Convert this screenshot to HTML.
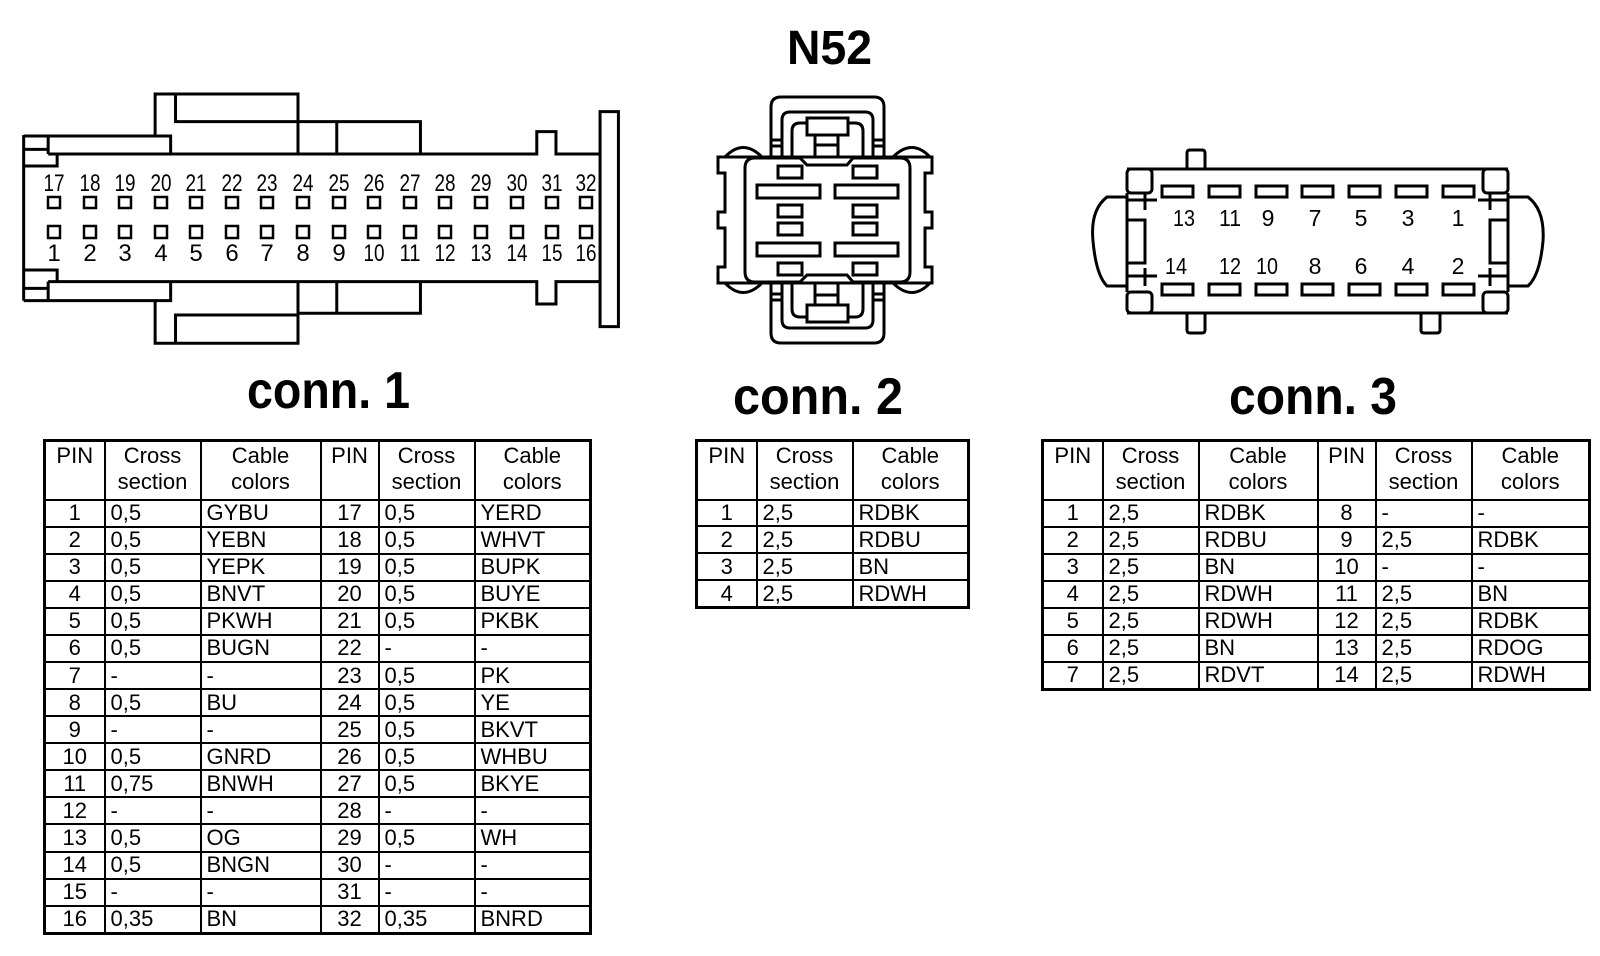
<!DOCTYPE html>
<html><head><meta charset="utf-8">
<style>
html,body{margin:0;padding:0;background:#fff;}
body{width:1600px;height:956px;position:relative;overflow:hidden;font-family:"Liberation Sans",Arial,sans-serif;}
svg{position:absolute;left:0;top:0;}
table{position:absolute;border-collapse:collapse;table-layout:fixed;border:3px solid #000;font-size:22px;line-height:1;}
td{border:2px solid #000;padding:0;white-space:nowrap;overflow:hidden;vertical-align:middle;}
tr.h td{vertical-align:top;text-align:center;line-height:26px;padding-top:1px;}
td.c{text-align:center;}
td.l{text-align:left;padding-left:5px;}
</style></head><body>
<svg width="1600" height="956" viewBox="0 0 1600 956" font-family="Liberation Sans, Arial, sans-serif">
<g fill="none" stroke="#000" stroke-width="3" stroke-linejoin="miter">
 <g transform="translate(0,80) scale(0.4082,0.3333)">
  <path vector-effect="non-scaling-stroke" d="M58,165 V662"/>
  <path vector-effect="non-scaling-stroke" d="M58,168 H418 V222 M118,168 V222 M58,208 H118 M140,222 V258 H58"/>
  <path vector-effect="non-scaling-stroke" d="M380,168 V42 H730 V222 M430,42 V125 H1030 V222 M825,125 V222"/>
  <path vector-effect="non-scaling-stroke" d="M118,222 H1315 V155 H1362 V222 H1470 M1470,95 H1515 V740 H1470 Z"/>
  <path vector-effect="non-scaling-stroke" d="M58,662 H418 V605 M118,662 V605 M58,625 H118 M140,605 V570 H58"/>
  <path vector-effect="non-scaling-stroke" d="M380,662 V790 H730 V605 M430,790 V705 H730 M730,700 H1030 V605 M825,605 V700"/>
  <path vector-effect="non-scaling-stroke" d="M118,605 H1315 V672 H1362 V605 H1470"/>
 </g>
 <g stroke-width="2.5">
  <rect x="48" y="197" width="12" height="11"/><rect x="84" y="197" width="12" height="11"/><rect x="119" y="197" width="12" height="11"/><rect x="155" y="197" width="12" height="11"/><rect x="190" y="197" width="12" height="11"/><rect x="226" y="197" width="12" height="11"/><rect x="261" y="197" width="12" height="11"/><rect x="297" y="197" width="12" height="11"/><rect x="333" y="197" width="12" height="11"/><rect x="368" y="197" width="12" height="11"/><rect x="404" y="197" width="12" height="11"/><rect x="439" y="197" width="12" height="11"/><rect x="475" y="197" width="12" height="11"/><rect x="511" y="197" width="12" height="11"/><rect x="546" y="197" width="12" height="11"/><rect x="580" y="197" width="12" height="11"/>
  <rect x="48" y="226" width="12" height="12"/><rect x="84" y="226" width="12" height="12"/><rect x="119" y="226" width="12" height="12"/><rect x="155" y="226" width="12" height="12"/><rect x="190" y="226" width="12" height="12"/><rect x="226" y="226" width="12" height="12"/><rect x="261" y="226" width="12" height="12"/><rect x="297" y="226" width="12" height="12"/><rect x="333" y="226" width="12" height="12"/><rect x="368" y="226" width="12" height="12"/><rect x="404" y="226" width="12" height="12"/><rect x="439" y="226" width="12" height="12"/><rect x="475" y="226" width="12" height="12"/><rect x="511" y="226" width="12" height="12"/><rect x="546" y="226" width="12" height="12"/><rect x="580" y="226" width="12" height="12"/>
 </g>

 <g id="c2top">
  <path d="M771,157 V107 Q771,97 781,97 H874 Q884,97 884,107 V157"/>
  <path d="M782,157 V120 Q782,112 790,112 H865 Q873,112 873,120 V157"/>
  <path d="M792,157 V131 Q792,123 800,123 H855 Q863,123 863,131 V157"/>
  <path d="M771,140 H782 M771,146 H782 M873,140 H884 M873,146 H884"/>
  <rect x="807" y="118" width="41" height="17" fill="#fff"/>
  <path d="M815,135 V157 M838,135 V157 M815,145 H838 M824,157 V165 M830,157 V165"/>
  <path d="M725,157 Q743,138 762,157 M893,157 Q912,138 930,157"/>
 </g>
 <use href="#c2top" transform="translate(0,440) scale(1,-1)"/>
 <path d="M718,157 H932 V173 H925 V212 H932 V228 H925 V267 H932 V283 H718 V267 H725 V228 H718 V212 H725 V173 H718 Z" fill="#fff"/>
 <path d="M755,158 H800 L807,165 H847 L853,158 H900 Q910,158 910,168 V272 Q910,282 900,282 H853 L847,275 H807 L800,282 H755 Q745,282 745,272 V168 Q745,158 755,158 Z"/>
 <g stroke-width="3">
  <rect x="778" y="166" width="24" height="12"/><rect x="853" y="166" width="24" height="12"/>
  <rect x="757" y="185" width="63" height="13"/><rect x="835" y="185" width="63" height="13"/>
  <rect x="778" y="205" width="24" height="12"/><rect x="853" y="205" width="24" height="12"/>
  <rect x="778" y="223" width="24" height="12"/><rect x="853" y="223" width="24" height="12"/>
  <rect x="757" y="243" width="63" height="13"/><rect x="835" y="243" width="63" height="13"/>
  <rect x="778" y="263" width="24" height="12"/><rect x="853" y="263" width="24" height="12"/>
 </g>

 <path d="M1187,169 V153 Q1187,150 1190,150 H1202 Q1205,150 1205,153 V169"/>
 <path d="M1187,313 V330 Q1187,333 1190,333 H1202 Q1205,333 1205,330 V313"/>
 <path d="M1421,313 V330 Q1421,333 1424,333 H1437 Q1440,333 1440,330 V313"/>
 <path d="M1127,169 H1508 M1127,313 H1508"/>
 <rect x="1127" y="169" width="25" height="24" rx="4"/>
 <rect x="1127" y="292" width="25" height="21" rx="4"/>
 <rect x="1483" y="169" width="25" height="24" rx="4"/>
 <rect x="1483" y="292" width="25" height="21" rx="4"/>
 <path d="M1127,193 V292 M1508,193 V292"/>
 <path d="M1127,197 H1107 Q1090,210 1093,241 Q1096,275 1107,286 H1127"/>
 <path d="M1508,197 H1528 Q1545,210 1543,241 Q1540,275 1528,286 H1508"/>
 <path d="M1127,200 H1157 M1127,276 H1157 M1145,193 V210 M1145,268 V286 M1127,220 H1145 V263 H1127"/>
 <path d="M1508,200 H1478 M1508,276 H1478 M1490,193 V210 M1490,268 V286 M1508,220 H1490 V263 H1508"/>
 <g stroke-width="3">
  <rect x="1162" y="186" width="31" height="11"/><rect x="1209" y="186" width="31" height="11"/><rect x="1256" y="186" width="31" height="11"/><rect x="1302" y="186" width="31" height="11"/><rect x="1349" y="186" width="31" height="11"/><rect x="1396" y="186" width="31" height="11"/><rect x="1443" y="186" width="31" height="11"/>
  <rect x="1162" y="284" width="31" height="11"/><rect x="1209" y="284" width="31" height="11"/><rect x="1256" y="284" width="31" height="11"/><rect x="1302" y="284" width="31" height="11"/><rect x="1349" y="284" width="31" height="11"/><rect x="1396" y="284" width="31" height="11"/><rect x="1443" y="284" width="31" height="11"/>
 </g>
</g>

<g font-size="24" text-anchor="middle" fill="#000">
 <text x="54" y="191" textLength="21" lengthAdjust="spacingAndGlyphs">17</text><text x="90" y="191" textLength="21" lengthAdjust="spacingAndGlyphs">18</text><text x="125" y="191" textLength="21" lengthAdjust="spacingAndGlyphs">19</text><text x="161" y="191" textLength="21" lengthAdjust="spacingAndGlyphs">20</text><text x="196" y="191" textLength="21" lengthAdjust="spacingAndGlyphs">21</text><text x="232" y="191" textLength="21" lengthAdjust="spacingAndGlyphs">22</text><text x="267" y="191" textLength="21" lengthAdjust="spacingAndGlyphs">23</text><text x="303" y="191" textLength="21" lengthAdjust="spacingAndGlyphs">24</text><text x="339" y="191" textLength="21" lengthAdjust="spacingAndGlyphs">25</text><text x="374" y="191" textLength="21" lengthAdjust="spacingAndGlyphs">26</text><text x="410" y="191" textLength="21" lengthAdjust="spacingAndGlyphs">27</text><text x="445" y="191" textLength="21" lengthAdjust="spacingAndGlyphs">28</text><text x="481" y="191" textLength="21" lengthAdjust="spacingAndGlyphs">29</text><text x="517" y="191" textLength="21" lengthAdjust="spacingAndGlyphs">30</text><text x="552" y="191" textLength="21" lengthAdjust="spacingAndGlyphs">31</text><text x="586" y="191" textLength="21" lengthAdjust="spacingAndGlyphs">32</text>
 <text x="54" y="261">1</text><text x="90" y="261">2</text><text x="125" y="261">3</text><text x="161" y="261">4</text><text x="196" y="261">5</text><text x="232" y="261">6</text><text x="267" y="261">7</text><text x="303" y="261">8</text><text x="339" y="261">9</text><text x="374" y="261" textLength="21" lengthAdjust="spacingAndGlyphs">10</text><text x="410" y="261" textLength="21" lengthAdjust="spacingAndGlyphs">11</text><text x="445" y="261" textLength="21" lengthAdjust="spacingAndGlyphs">12</text><text x="481" y="261" textLength="21" lengthAdjust="spacingAndGlyphs">13</text><text x="517" y="261" textLength="21" lengthAdjust="spacingAndGlyphs">14</text><text x="552" y="261" textLength="21" lengthAdjust="spacingAndGlyphs">15</text><text x="586" y="261" textLength="21" lengthAdjust="spacingAndGlyphs">16</text>
</g>
<g font-size="23" text-anchor="middle" fill="#000">
 <text x="1184" y="226" textLength="22" lengthAdjust="spacingAndGlyphs">13</text><text x="1230" y="226" textLength="22" lengthAdjust="spacingAndGlyphs">11</text><text x="1268" y="226">9</text><text x="1315" y="226">7</text><text x="1361" y="226">5</text><text x="1408" y="226">3</text><text x="1458" y="226">1</text>
 <text x="1176" y="274" textLength="22" lengthAdjust="spacingAndGlyphs">14</text><text x="1230" y="274" textLength="22" lengthAdjust="spacingAndGlyphs">12</text><text x="1267" y="274" textLength="22" lengthAdjust="spacingAndGlyphs">10</text><text x="1315" y="274">8</text><text x="1361" y="274">6</text><text x="1408" y="274">4</text><text x="1458" y="274">2</text>
</g>
<g font-weight="bold" fill="#000">
 <text x="787" y="64" font-size="48" textLength="85" lengthAdjust="spacingAndGlyphs">N52</text>
 <text x="247" y="408" font-size="52" textLength="163" lengthAdjust="spacingAndGlyphs">conn. 1</text>
 <text x="733" y="414" font-size="52" textLength="170" lengthAdjust="spacingAndGlyphs">conn. 2</text>
 <text x="1229" y="414" font-size="52" textLength="168" lengthAdjust="spacingAndGlyphs">conn. 3</text>
</g>
</svg>

<table style="left:43px;top:439px;width:546px;height:496px;">
<colgroup><col style="width:60px"><col style="width:96px"><col style="width:120px"><col style="width:58px"><col style="width:96px"><col style="width:116px"></colgroup>
<tr class="h" style="height:59px"><td>PIN</td><td>Cross<br>section</td><td>Cable<br>colors</td><td>PIN</td><td>Cross<br>section</td><td>Cable<br>colors</td></tr>
<tr><td class="c">1</td><td class="l">0,5</td><td class="l">GYBU</td><td class="c">17</td><td class="l">0,5</td><td class="l">YERD</td></tr>
<tr><td class="c">2</td><td class="l">0,5</td><td class="l">YEBN</td><td class="c">18</td><td class="l">0,5</td><td class="l">WHVT</td></tr>
<tr><td class="c">3</td><td class="l">0,5</td><td class="l">YEPK</td><td class="c">19</td><td class="l">0,5</td><td class="l">BUPK</td></tr>
<tr><td class="c">4</td><td class="l">0,5</td><td class="l">BNVT</td><td class="c">20</td><td class="l">0,5</td><td class="l">BUYE</td></tr>
<tr><td class="c">5</td><td class="l">0,5</td><td class="l">PKWH</td><td class="c">21</td><td class="l">0,5</td><td class="l">PKBK</td></tr>
<tr><td class="c">6</td><td class="l">0,5</td><td class="l">BUGN</td><td class="c">22</td><td class="l">-</td><td class="l">-</td></tr>
<tr><td class="c">7</td><td class="l">-</td><td class="l">-</td><td class="c">23</td><td class="l">0,5</td><td class="l">PK</td></tr>
<tr><td class="c">8</td><td class="l">0,5</td><td class="l">BU</td><td class="c">24</td><td class="l">0,5</td><td class="l">YE</td></tr>
<tr><td class="c">9</td><td class="l">-</td><td class="l">-</td><td class="c">25</td><td class="l">0,5</td><td class="l">BKVT</td></tr>
<tr><td class="c">10</td><td class="l">0,5</td><td class="l">GNRD</td><td class="c">26</td><td class="l">0,5</td><td class="l">WHBU</td></tr>
<tr><td class="c">11</td><td class="l">0,75</td><td class="l">BNWH</td><td class="c">27</td><td class="l">0,5</td><td class="l">BKYE</td></tr>
<tr><td class="c">12</td><td class="l">-</td><td class="l">-</td><td class="c">28</td><td class="l">-</td><td class="l">-</td></tr>
<tr><td class="c">13</td><td class="l">0,5</td><td class="l">OG</td><td class="c">29</td><td class="l">0,5</td><td class="l">WH</td></tr>
<tr><td class="c">14</td><td class="l">0,5</td><td class="l">BNGN</td><td class="c">30</td><td class="l">-</td><td class="l">-</td></tr>
<tr><td class="c">15</td><td class="l">-</td><td class="l">-</td><td class="c">31</td><td class="l">-</td><td class="l">-</td></tr>
<tr><td class="c">16</td><td class="l">0,35</td><td class="l">BN</td><td class="c">32</td><td class="l">0,35</td><td class="l">BNRD</td></tr>
</table>

<table style="left:695px;top:439px;width:272px;height:170px;">
<colgroup><col style="width:60px"><col style="width:96px"><col style="width:116px"></colgroup>
<tr class="h" style="height:59px"><td>PIN</td><td>Cross<br>section</td><td>Cable<br>colors</td></tr>
<tr><td class="c">1</td><td class="l">2,5</td><td class="l">RDBK</td></tr>
<tr><td class="c">2</td><td class="l">2,5</td><td class="l">RDBU</td></tr>
<tr><td class="c">3</td><td class="l">2,5</td><td class="l">BN</td></tr>
<tr><td class="c">4</td><td class="l">2,5</td><td class="l">RDWH</td></tr>
</table>

<table style="left:1041px;top:439px;width:547px;height:252px;">
<colgroup><col style="width:60px"><col style="width:96px"><col style="width:119px"><col style="width:58px"><col style="width:96px"><col style="width:118px"></colgroup>
<tr class="h" style="height:59px"><td>PIN</td><td>Cross<br>section</td><td>Cable<br>colors</td><td>PIN</td><td>Cross<br>section</td><td>Cable<br>colors</td></tr>
<tr><td class="c">1</td><td class="l">2,5</td><td class="l">RDBK</td><td class="c">8</td><td class="l">-</td><td class="l">-</td></tr>
<tr><td class="c">2</td><td class="l">2,5</td><td class="l">RDBU</td><td class="c">9</td><td class="l">2,5</td><td class="l">RDBK</td></tr>
<tr><td class="c">3</td><td class="l">2,5</td><td class="l">BN</td><td class="c">10</td><td class="l">-</td><td class="l">-</td></tr>
<tr><td class="c">4</td><td class="l">2,5</td><td class="l">RDWH</td><td class="c">11</td><td class="l">2,5</td><td class="l">BN</td></tr>
<tr><td class="c">5</td><td class="l">2,5</td><td class="l">RDWH</td><td class="c">12</td><td class="l">2,5</td><td class="l">RDBK</td></tr>
<tr><td class="c">6</td><td class="l">2,5</td><td class="l">BN</td><td class="c">13</td><td class="l">2,5</td><td class="l">RDOG</td></tr>
<tr><td class="c">7</td><td class="l">2,5</td><td class="l">RDVT</td><td class="c">14</td><td class="l">2,5</td><td class="l">RDWH</td></tr>
</table>
</body></html>
